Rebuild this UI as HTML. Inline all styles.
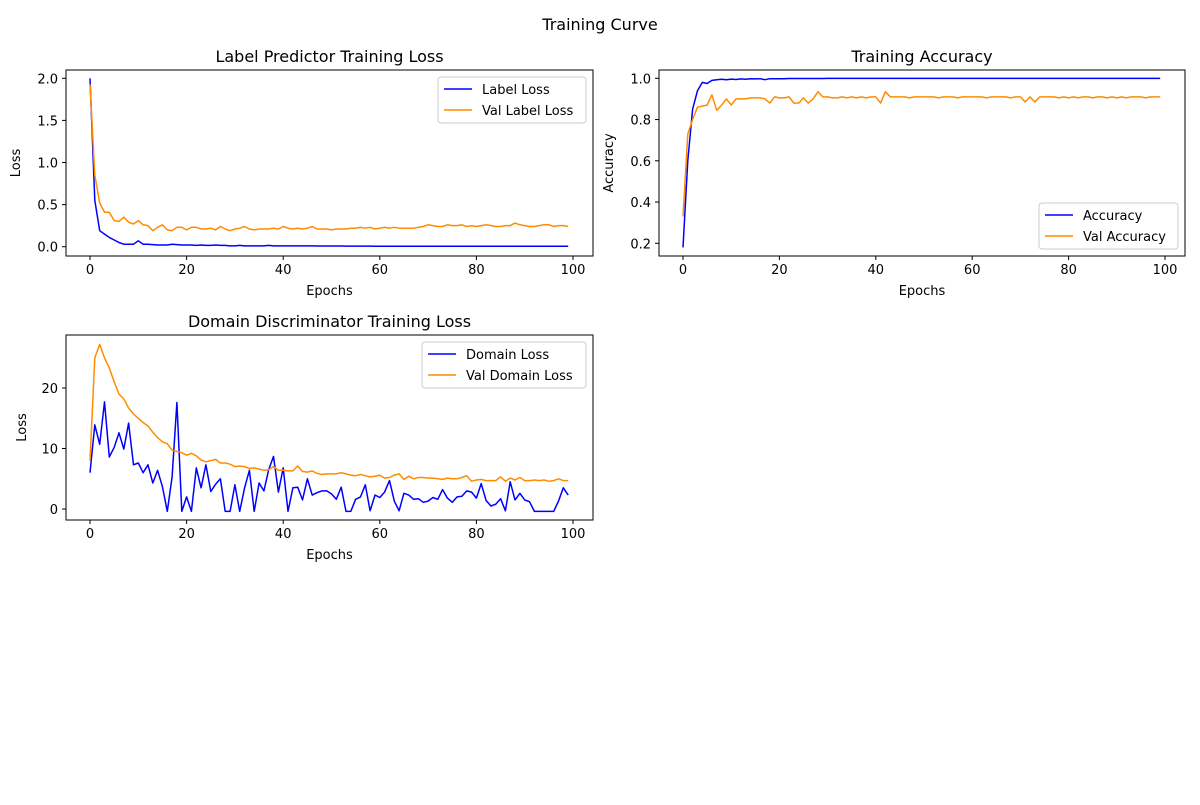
<!DOCTYPE html>
<html><head><meta charset="utf-8"><style>
body{margin:0;background:#fff;font-family:"Liberation Sans","DejaVu Sans",sans-serif}
svg text{font-family:"DejaVu Sans","Liberation Sans",sans-serif;fill:#000}
</style></head><body>
<svg id="c" width="1200" height="800"></svg>
<script>
const epochs = Array.from({length:100},(_,i)=>i);
const labelLoss=[2.0,0.55,0.19,0.15,0.11,0.08,0.05,0.03,0.03,0.03,0.07,0.03,0.03,0.025,0.02,0.02,0.02,0.03,0.025,0.02,0.02,0.02,0.015,0.02,0.015,0.015,0.02,0.015,0.015,0.01,0.01,0.015,0.01,0.01,0.01,0.01,0.01,0.015,0.01,0.01,0.01,0.01,0.01,0.01,0.01,0.01,0.01,0.008,0.008,0.008,0.008,0.008,0.008,0.007,0.007,0.007,0.007,0.007,0.007,0.006,0.006,0.006,0.006,0.006,0.006,0.006,0.006,0.006,0.005,0.005,0.005,0.005,0.005,0.005,0.005,0.005,0.005,0.005,0.005,0.005,0.005,0.005,0.005,0.005,0.005,0.005,0.005,0.005,0.005,0.005,0.005,0.005,0.005,0.005,0.005,0.005,0.005,0.005,0.005,0.005];
const valLabelLoss=[1.93,0.85,0.52,0.41,0.41,0.31,0.30,0.35,0.29,0.27,0.31,0.26,0.25,0.19,0.23,0.26,0.20,0.19,0.23,0.23,0.20,0.23,0.23,0.21,0.21,0.22,0.20,0.24,0.21,0.19,0.21,0.22,0.24,0.21,0.20,0.21,0.21,0.21,0.22,0.21,0.24,0.22,0.21,0.22,0.21,0.22,0.24,0.21,0.21,0.21,0.20,0.21,0.21,0.21,0.22,0.22,0.23,0.22,0.23,0.21,0.22,0.23,0.22,0.23,0.22,0.22,0.22,0.22,0.23,0.24,0.26,0.25,0.24,0.24,0.26,0.25,0.25,0.26,0.24,0.25,0.24,0.25,0.26,0.25,0.24,0.24,0.25,0.25,0.28,0.26,0.25,0.24,0.24,0.25,0.26,0.26,0.24,0.25,0.25,0.24];
const accuracy=[0.18,0.6,0.85,0.94,0.98,0.975,0.99,0.993,0.995,0.993,0.996,0.994,0.997,0.995,0.998,0.997,0.998,0.993,0.998,0.998,0.998,0.998,0.999,0.999,0.999,0.999,0.999,0.999,0.999,0.999].concat(Array(70).fill(0.9995));
const valAccuracy=[0.33,0.73,0.8,0.86,0.865,0.87,0.92,0.845,0.87,0.9,0.87,0.9,0.9,0.9,0.905,0.905,0.905,0.9,0.88,0.91,0.905,0.905,0.91,0.88,0.88,0.905,0.88,0.9,0.935,0.91,0.91,0.905,0.905,0.91,0.905,0.91,0.905,0.91,0.905,0.91,0.91,0.88,0.935,0.91,0.91,0.91,0.91,0.905,0.91,0.91,0.91,0.91,0.91,0.905,0.91,0.91,0.91,0.905,0.91,0.91,0.91,0.91,0.91,0.905,0.91,0.91,0.91,0.91,0.905,0.91,0.91,0.885,0.91,0.885,0.91,0.91,0.91,0.91,0.905,0.91,0.905,0.91,0.905,0.91,0.91,0.905,0.91,0.91,0.905,0.91,0.905,0.91,0.905,0.91,0.91,0.91,0.905,0.91,0.91,0.91];
const domainLoss=[6.0,13.9,10.7,17.7,8.6,10.2,12.6,9.9,14.2,7.3,7.6,6.0,7.3,4.3,6.4,3.7,-0.4,5.3,17.6,-0.4,2.0,-0.4,6.8,3.5,7.3,2.9,4.1,5.0,-0.4,-0.4,4.0,-0.4,3.5,6.4,-0.4,4.3,3.0,6.5,8.7,2.8,6.8,-0.4,3.5,3.6,1.5,5.0,2.3,2.7,3.0,3.0,2.5,1.6,3.6,-0.4,-0.4,1.6,2.0,4.0,-0.3,2.3,1.9,2.8,4.7,1.3,-0.3,2.6,2.3,1.6,1.7,1.1,1.3,1.9,1.6,3.2,1.8,1.1,2.0,2.1,3.0,2.8,1.8,4.2,1.4,0.5,0.8,1.7,-0.3,4.5,1.5,2.6,1.5,1.2,-0.4,-0.4,-0.4,-0.4,-0.4,1.3,3.5,2.3];
const valDomainLoss=[8,25,27.2,25,23.3,21,19,18.2,16.7,15.7,15,14.3,13.7,12.7,11.8,11.1,10.8,9.7,9.5,9.3,8.9,9.2,8.8,8.1,7.8,8.0,8.2,7.6,7.6,7.4,7.0,7.1,7.0,6.7,6.8,6.6,6.4,6.5,7.0,6.4,6.4,6.3,6.3,7.1,6.2,6.1,6.3,5.9,5.7,5.8,5.8,5.8,6.0,5.8,5.6,5.5,5.7,5.5,5.3,5.4,5.6,5.1,5.2,5.6,5.8,4.9,5.4,5.0,5.2,5.2,5.1,5.1,5.0,4.9,5.1,5.0,5.0,5.2,5.5,4.6,4.8,4.9,4.7,4.7,4.7,5.3,4.6,5.1,4.8,5.2,4.7,4.7,4.8,4.7,4.8,4.6,4.7,5.0,4.7,4.7];
const xTicks=[0,20,40,60,80,100];
const lossTicks=[0.0,0.5,1.0,1.5,2.0];
const accTicks=[0.2,0.4,0.6,0.8,1.0];
const domTicks=[0,10,20];

const NS='http://www.w3.org/2000/svg';
const svg=document.getElementById('c');
function mk(tag,attrs,parent){const e=document.createElementNS(NS,tag);for(const k in attrs)e.setAttribute(k,attrs[k]);(parent||svg).appendChild(e);return e;}
function txt(s,x,y,size,anchor,parent,extra){const t=mk('text',Object.assign({x:x,y:y,'font-size':size,'text-anchor':anchor||'middle'},extra||{}),parent);t.textContent=s;return t;}

const st=txt('Training Curve',600,30,16,'middle');



function panel(cfg){
  const g=mk('g',{});
  
  
  const L=cfg.box[0],T=cfg.box[1],R=cfg.box[2],B=cfg.box[3];
  const xs=v=>cfg.x0+(v-0)*(cfg.x100-cfg.x0)/100;
  const ys=v=>cfg.ya[1]+(v-cfg.ya[0])*(cfg.yb[1]-cfg.ya[1])/(cfg.yb[0]-cfg.ya[0]);
  const fr=mk('rect',{x:L,y:T,width:R-L,height:B-T,fill:'none',stroke:'#000','stroke-width':1},g);
  
  
  xTicks.forEach(v=>{const x=xs(v);mk('line',{x1:x,y1:B,x2:x,y2:B+4,stroke:'#000'},g);const t=txt(String(v),x,B+18,13,'middle',g);});
  cfg.yt.forEach(v=>{const y=ys(v);mk('line',{x1:L-4,y1:y,x2:L,y2:y,stroke:'#000'},g);const t=txt(cfg.fmt(v),L-8,y+5,13,'end',g);});
  const xt=txt('Epochs',(L+R)/2,B+39,13,'middle',g);
  const yt=txt(cfg.ylabel,0,0,13,'middle',g,{transform:`translate(${L-cfg.ylOff},${(T+B)/2}) rotate(-90)`});
  const tt=txt(cfg.title,(L+R)/2,T-8,16,'middle',g);
  cfg.series.forEach(s=>{
    const p=mk('polyline',{points:s.d.map((v,i)=>xs(epochs[i]).toFixed(1)+','+ys(v).toFixed(1)).join(' '),fill:'none',stroke:s.c,'stroke-width':1.5,'stroke-linejoin':'round'},g);
    
    
  });
  const lg=mk('g',{},g);
  
  
  const lb=cfg.leg;
  mk('rect',{x:lb[0],y:lb[1],width:lb[2],height:46,rx:3,fill:'#fff','fill-opacity':0.8,stroke:'#ccc'},lg);
  cfg.series.forEach((s,i)=>{
    const y=lb[1]+12+i*21;
    mk('line',{x1:lb[0]+6,y1:y,x2:lb[0]+34,y2:y,stroke:s.c,'stroke-width':1.5},lg);
    const t=txt(s.label,lb[0]+44,y+5,13,'start',lg);
    
    
  });
}
panel({name:'label-loss-panel',box:[66,70,593,256],x0:90,x100:573,ya:[0,246.7],yb:[2,78.3],yt:lossTicks,fmt:v=>v.toFixed(1),ylabel:'Loss',ylOff:46,title:'Label Predictor Training Loss',leg:[438,77,148],
  series:[{id:'label-loss-line',d:labelLoss,c:'#0000ff',label:'Label Loss'},{id:'val-label-loss-line',d:valLabelLoss,c:'#ff8c00',label:'Val Label Loss'}]});
panel({name:'accuracy-panel',box:[659,70,1185,256],x0:683,x100:1165,ya:[0.2,243.3],yb:[1.0,78.3],yt:accTicks,fmt:v=>v.toFixed(1),ylabel:'Accuracy',ylOff:46,title:'Training Accuracy',leg:[1039,203,139],
  series:[{id:'accuracy-line',d:accuracy,c:'#0000ff',label:'Accuracy'},{id:'val-accuracy-line',d:valAccuracy,c:'#ff8c00',label:'Val Accuracy'}]});
panel({name:'domain-loss-panel',box:[66,335,593,520],x0:90,x100:573,ya:[0,509],yb:[20,388],yt:domTicks,fmt:v=>String(v),ylabel:'Loss',ylOff:40,title:'Domain Discriminator Training Loss',leg:[422,342,164],
  series:[{id:'domain-loss-line',d:domainLoss,c:'#0000ff',label:'Domain Loss'},{id:'val-domain-loss-line',d:valDomainLoss,c:'#ff8c00',label:'Val Domain Loss'}]});
</script>
</body></html>
